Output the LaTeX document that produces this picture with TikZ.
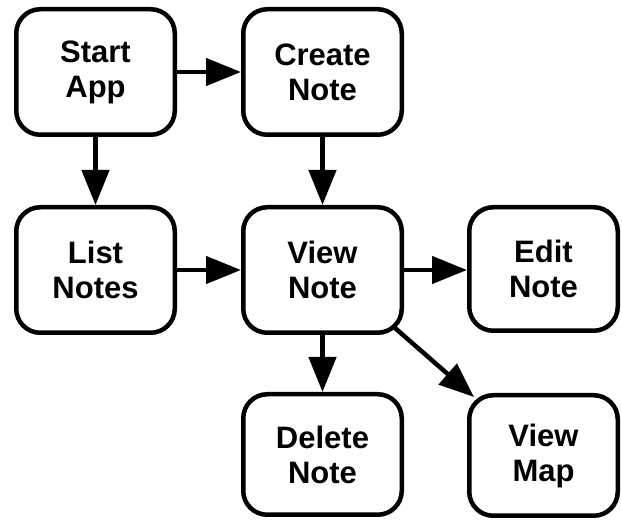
\documentclass[tikz,border=0pt]{standalone}
\usepackage{fontspec}
\setmainfont{Liberation Sans}
\usetikzlibrary{arrows.meta}
\begin{document}
\begin{tikzpicture}[x=1pt,y=-1pt,
  box/.style={draw=black, line width=4.5pt, rounded corners=24pt, fill=white,
    minimum width=158.5pt, minimum height=125.5pt, inner sep=0pt,
    align=center, font=\fontsize{31}{35}\selectfont\bfseries},
  arr/.style={line width=4.5pt, -{Triangle[length=35pt,width=27pt]}}]
\useasboundingbox (0,0) rectangle (622,521);
\node[box] (start) at (95.5,72) {Start\\App};
\node[box] (create) at (322.5,72) {Create\\Note};
\node[box] (list) at (95.5,270) {List\\Notes};
\node[box] (view) at (322.5,270) {View\\Note};
\node[box, minimum width=148.5pt, minimum height=123.5pt] (edit) at (543.5,269) {Edit\\Note};
\node[box, minimum height=120.5pt] (delete) at (322.5,454.5) {Delete\\Note};
\node[box, minimum width=148.5pt, minimum height=120.5pt] (map) at (543.5,455.5) {View\\Map};
\draw[arr] (start.east) -- (create.west |- start.east);
\draw[arr] (start.south) -- (list.north);
\draw[arr] (create.south) -- (view.north);
\draw[arr] (list.east) -- (view.west |- list.east);
\draw[arr] (view.east) -- (edit.west |- view.east);
\draw[arr] (view.south) -- (delete.north);
\draw[arr] ([xshift=-9pt,yshift=7pt]view.south east) -- ([xshift=7pt,yshift=-4pt]map.north west);
\end{tikzpicture}
\end{document}
